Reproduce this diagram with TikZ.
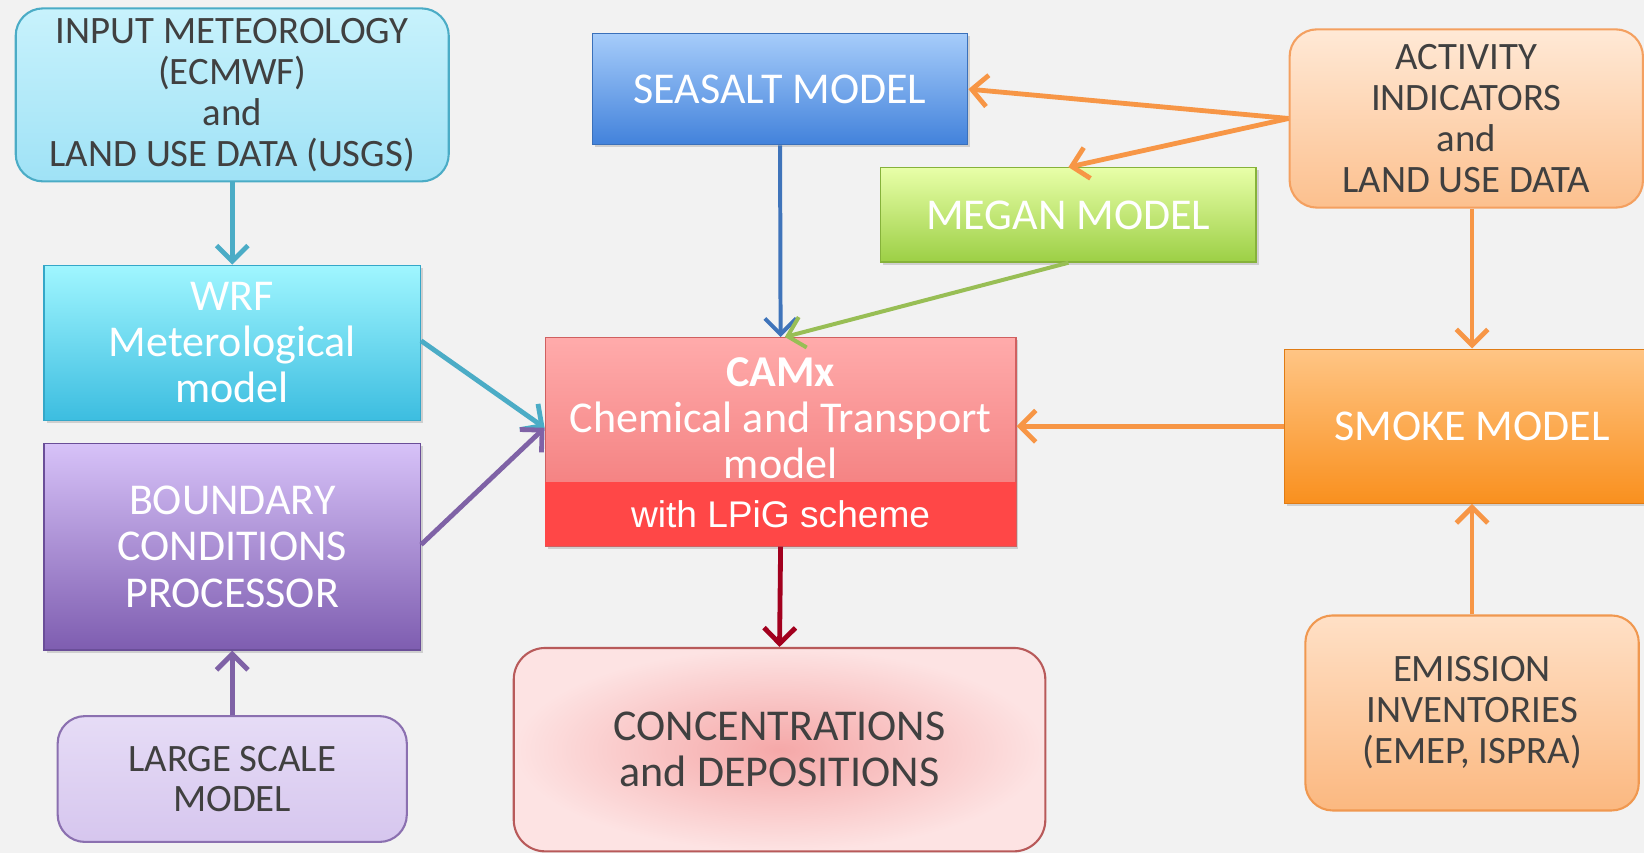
\documentclass[tikz,border=0pt]{standalone}
\usepackage{fontspec}
\setmainfont{Carlito}
\newfontfamily\arialfont{Liberation Sans}
\usetikzlibrary{arrows.meta,shadows,calc}
\definecolor{bg}{HTML}{F2F2F2}
\definecolor{txtdark}{HTML}{404040}
\definecolor{inTop}{HTML}{C8F2FC}\definecolor{inBot}{HTML}{9FE2F6}\definecolor{inB}{HTML}{4BACC6}
\definecolor{wrfT}{HTML}{A0F6FF}\definecolor{wrfBot}{HTML}{3CBDE0}\definecolor{wrfB}{HTML}{35A7C8}
\definecolor{bndT}{HTML}{D7C2F8}\definecolor{bndBot}{HTML}{7E5DB0}\definecolor{bndB}{HTML}{6A4E98}
\definecolor{lgT}{HTML}{E6DCF6}\definecolor{lgBot}{HTML}{D6C6EE}\definecolor{lgB}{HTML}{8B70B0}
\definecolor{seaT}{HTML}{A6CCFA}\definecolor{seaBot}{HTML}{4282DB}\definecolor{seaB}{HTML}{3A70BA}
\definecolor{megT}{HTML}{E8FFA8}\definecolor{megBot}{HTML}{9CCF45}\definecolor{megB}{HTML}{86B23A}
\definecolor{camT}{HTML}{FFABAB}\definecolor{camBot}{HTML}{F07272}\definecolor{camB}{HTML}{D06060}
\definecolor{band}{HTML}{FF4747}
\definecolor{concIn}{HTML}{F5A8A8}\definecolor{concOut}{HTML}{FDE3E3}\definecolor{concB}{HTML}{B85A5A}
\definecolor{actT}{HTML}{FFE9D6}\definecolor{actBot}{HTML}{FCC08E}\definecolor{actB}{HTML}{F4A060}
\definecolor{smkT}{HTML}{FFC585}\definecolor{smkBot}{HTML}{F9901E}\definecolor{smkB}{HTML}{E07C15}
\definecolor{emiT}{HTML}{FFE0C6}\definecolor{emiBot}{HTML}{FBB880}\definecolor{emiB}{HTML}{F09850}
\definecolor{aTeal}{HTML}{4BACC6}\definecolor{aPurple}{HTML}{7F62A6}\definecolor{aBlue}{HTML}{3F74BA}
\definecolor{aGreen}{HTML}{98BE55}\definecolor{aOrange}{HTML}{F79646}\definecolor{aRed}{HTML}{A2001E}
\begin{document}
\begin{tikzpicture}[x=0.5pt,y=-0.5pt,
  box/.style={rectangle, inner sep=0pt, align=center, line width=0.6pt,
    drop shadow={opacity=0.3,shadow xshift=1.2pt,shadow yshift=-1.2pt}},
  rbox/.style={rectangle, rounded corners=13pt, inner sep=0pt, align=center, line width=1pt},
  darktxt/.style={text=txtdark, font=\fontsize{18.5}{19.5}\selectfont},
  whitetxt/.style={text=white, font=\fontsize{21}{22}\selectfont},
  arr/.style={line width=2.3pt, -{Straight Barb[length=7.5pt,width=15pt]}},
]
\fill[bg] (0,0) rectangle (1568,814);
\useasboundingbox (0,0) rectangle (1568,814);

% left column
\node[rbox, draw=inB, top color=inTop, bottom color=inBot, minimum width=206.5pt, minimum height=82.5pt, darktxt]
  (input) at (221.5,90.5) {INPUT METEOROLOGY\\(ECMWF)\\and\\LAND USE DATA (USGS)};
\node[box, draw=wrfB, top color=wrfT, bottom color=wrfBot, minimum width=179.5pt, minimum height=74pt, whitetxt]
  (wrf) at (221.5,327) {WRF\\Meterological\\model};
\node[box, draw=bndB, top color=bndT, bottom color=bndBot, minimum width=179.5pt, minimum height=98.5pt, whitetxt]
  (bnd) at (221.5,521.5) {BOUNDARY\\CONDITIONS\\PROCESSOR};
\node[rbox, draw=lgB, top color=lgT, bottom color=lgBot, minimum width=166.5pt, minimum height=60pt, darktxt]
  (large) at (221.5,743) {LARGE SCALE\\MODEL};

% middle column
\node[box, draw=seaB, top color=seaT, bottom color=seaBot, minimum width=179pt, minimum height=53pt, whitetxt]
  (sea) at (744,85) {SEASALT MODEL};
\node[box, draw=megB, top color=megT, bottom color=megBot, minimum width=179pt, minimum height=45pt, whitetxt]
  (megan) at (1019,205) {MEGAN MODEL};
\node[box, draw=camB, top color=camT, bottom color=camBot, minimum width=224.5pt, minimum height=99.5pt]
  (camx) at (744.5,421.5) {};
\node[rectangle, inner sep=0pt, fill=band, minimum width=224.5pt, minimum height=30.5pt,
  text=white, font=\arialfont\fontsize{17.7}{20}\selectfont]
  (lpig) at (744.5,490.5) {with LPiG scheme};
\node[whitetxt, align=center, inner sep=0pt] (camxtext) at (744.5,399)
  {\textbf{CAMx}\\Chemical and Transport\\model};
\node[rbox, rounded corners=15pt, draw=concB, inner color=concIn, outer color=concOut,
  minimum width=253.5pt, minimum height=97pt, text=txtdark, font=\fontsize{21}{22}\selectfont]
  (conc) at (743.5,715) {CONCENTRATIONS\\and DEPOSITIONS};

% right column
\node[rbox, draw=actB, top color=actT, bottom color=actBot, minimum width=168.5pt, minimum height=85pt, darktxt]
  (act) at (1398.5,113) {ACTIVITY\\INDICATORS\\and\\LAND USE DATA};
\node[box, draw=smkB, top color=smkT, bottom color=smkBot, minimum width=179pt, minimum height=73.5pt, whitetxt]
  (smoke) at (1404,406.5) {SMOKE MODEL};
\node[rbox, draw=emiB, top color=emiT, bottom color=emiBot, minimum width=159pt, minimum height=93pt, darktxt]
  (emi) at (1404,680) {EMISSION\\INVENTORIES\\(EMEP, ISPRA)};

% connectors
\draw[arr, aTeal] (input.south) -- (wrf.north);
\draw[arr, aTeal] ([yshift=1pt]wrf.east) -- ([yshift=6.75pt]camx.west);
\draw[arr, aPurple] ([yshift=1pt]bnd.east) -- ([yshift=6.75pt]camx.west);
\draw[arr, aPurple] (large.north) -- (bnd.south);
\draw[arr, aBlue, line width=1.9pt] (sea.south) -- (camx.north);
\draw[arr, aGreen, line width=1.9pt] (megan.south) -- ([xshift=2pt]camx.north);
\draw[arr, aOrange] (act.west) -- (sea.east);
\draw[arr, aOrange] (act.west) -- (megan.north);
\draw[arr, aOrange] (act.south -| smoke.north) -- (smoke.north);
\draw[arr, aOrange] (smoke.west) -- (smoke.west -| camx.east);
\draw[arr, aOrange] (emi.north) -- (smoke.south);
\draw[arr, aRed] (lpig.south) -- (conc.north);
\end{tikzpicture}
\end{document}
